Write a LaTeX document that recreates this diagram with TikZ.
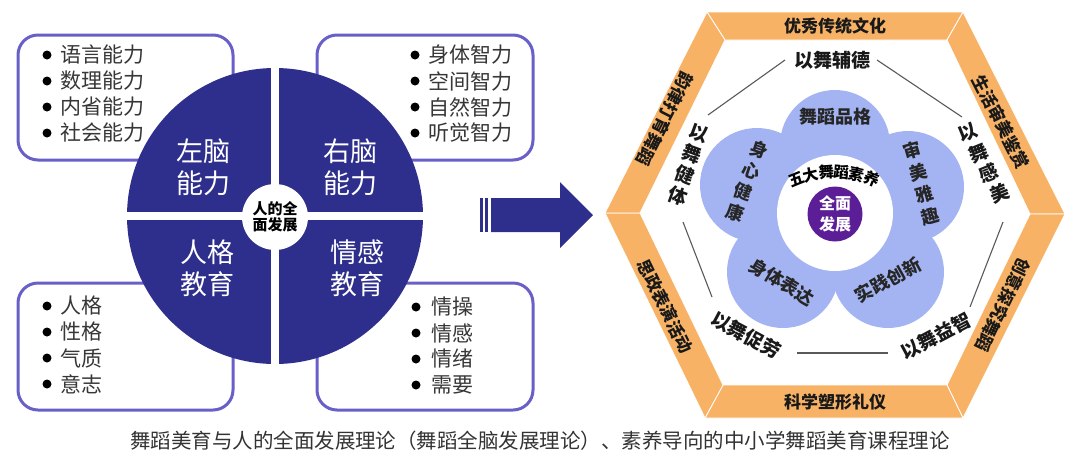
\documentclass[tikz,border=0pt]{standalone}
\usepackage{fontspec}
\setmainfont{Noto Sans CJK SC}
\usetikzlibrary{calc}
\definecolor{navy}{RGB}{46,46,140}
\definecolor{boxline}{RGB}{105,95,200}
\definecolor{band}{RGB}{247,178,102}
\definecolor{petal}{RGB}{164,180,242}
\definecolor{core}{RGB}{92,30,150}
\definecolor{txt}{RGB}{55,55,55}
\newcommand\fs[2]{\fontsize{#1}{#2}\selectfont}
\begin{document}
\begin{tikzpicture}[x=1pt,y=-1pt,
  listbox/.style={draw=boxline, line width=3pt, rounded corners=20pt, fill=white},
  item/.style={anchor=west, inner sep=0pt, text=txt, font=\fs{21}{26}},
  quad/.style={text=white, font=\fs{27}{32}, align=center, inner sep=0pt},
  bandlbl/.style={font=\bfseries\fs{17}{19}, inner sep=0pt, text=black!90},
  ring/.style={font=\bfseries\fs{19}{22}, inner sep=0pt, text=black!90},
  petallbl/.style={font=\bfseries\fs{18}{21}, inner sep=0pt, text=black!85},
  link/.style={draw=black!65, line width=1.1pt},
  seg/.style={fill=band, draw=white, line width=0.8pt}
]
\useasboundingbox (0,0) rectangle (1080,467);

% ---------- left: list boxes ----------
\draw[listbox] (18,35) rectangle (233,160);
\draw[listbox] (317,35) rectangle (533,160);
\draw[listbox] (18,283) rectangle (233,410);
\draw[listbox] (317,283) rectangle (533,410);

\foreach \t [count=\i] in {语言能力,数理能力,内省能力,社会能力}{
  \pgfmathsetmacro\yy{55+(\i-1)*26}
  \fill (47,\yy) circle (4.5);
  \node[item] (tl\i) at (60,\yy) {\t};
}
\foreach \t [count=\i] in {身体智力,空间智力,自然智力,听觉智力}{
  \pgfmathsetmacro\yy{55+(\i-1)*26}
  \fill (415,\yy) circle (4.5);
  \node[item] (tr\i) at (428,\yy) {\t};
}
\foreach \t [count=\i] in {人格,性格,气质,意志}{
  \pgfmathsetmacro\yy{306+(\i-1)*26}
  \fill (47,\yy) circle (4.5);
  \node[item] (bl\i) at (60,\yy) {\t};
}
\foreach \t [count=\i] in {情操,情感,情绪,需要}{
  \pgfmathsetmacro\yy{307+(\i-1)*26}
  \fill (416,\yy) circle (4.5);
  \node[item] (br\i) at (431,\yy) {\t};
}

% ---------- left: quartered circle ----------
\fill[navy] (275,216) circle (148);
\draw[white, line width=8pt] (120,216) -- (430,216);
\draw[white, line width=8pt] (275,60) -- (275,372);
\node[circle, fill=white, minimum size=66pt, inner sep=0pt, align=center,
      font=\bfseries\fs{15}{16}] (hub) at (275,217) {人的全\\面发展};
\node[quad] (q1) at (203,167) {左脑\\能力};
\node[quad] (q2) at (350,167) {右脑\\能力};
\node[quad] (q3) at (207,268) {人格\\教育};
\node[quad] (q4) at (357,268) {情感\\教育};

% ---------- arrow ----------
\fill[navy] (480,198) rectangle (483,232);
\fill[navy] (485,198) rectangle (488,232);
\fill[navy] (491,198) -- (560,198) -- (560,182) -- (593,215) -- (560,248)
            -- (560,232) -- (491,232) -- cycle;

% ---------- hexagon band ----------
\coordinate (O1) at (707,12);  \coordinate (O2) at (963,12);
\coordinate (O3) at (1065,214);\coordinate (O4) at (963,418);
\coordinate (O5) at (705,418); \coordinate (O6) at (605,213);
\coordinate (I1) at (725,40);  \coordinate (I2) at (947,40);
\coordinate (I3) at (1030,214);\coordinate (I4) at (947,385);
\coordinate (I5) at (723,385); \coordinate (I6) at (640,213);
\path[seg] (O1) -- (O2) -- (I2) -- (I1) -- cycle;
\path[seg] (O2) -- (O3) -- (I3) -- (I2) -- cycle;
\path[seg] (O3) -- (O4) -- (I4) -- (I3) -- cycle;
\path[seg] (O4) -- (O5) -- (I5) -- (I4) -- cycle;
\path[seg] (O5) -- (O6) -- (I6) -- (I5) -- cycle;
\path[seg] (O6) -- (O1) -- (I1) -- (I6) -- cycle;

\node[bandlbl] (b1) at (835,26) {优秀传统文化};
\node[bandlbl] (b4) at (835,402) {科学塑形礼仪};
\node[bandlbl, rotate=-117] (b6) at (665,119) {韵律打育舞蹈};
\node[bandlbl, rotate=-64] (b5) at (665,306) {思政表演活动};
\node[bandlbl, rotate=-63] (b2) at (1001,122) {生活审美鉴赏};
\node[bandlbl, rotate=-116] (b3) at (1003,305) {创意探究舞蹈};

% ---------- ring labels and links ----------
\node[ring] (r1) at (832,60) {以舞辅德};
\foreach \c [count=\i from 0] in {以,舞,健,体}
  \node[ring, rotate=-20] (rl\i) at ($(699,133)+\i*(-7,21)$) {\c};
\foreach \c [count=\i from 0] in {以,舞,感,美}
  \node[ring, rotate=22] (rr\i) at ($(968,133)+\i*(10.5,20)$) {\c};
\node[ring, rotate=-28] (r4) at (746,335) {以舞促劳};
\node[ring, rotate=28] (r5) at (936,336) {以舞益智};

\coordinate (k1a) at (708,115); \coordinate (k1b) at (785,60);
\coordinate (k2a) at (877,60);  \coordinate (k2b) at (962,117);
\coordinate (k3a) at (683,222); \coordinate (k3b) at (712,297);
\coordinate (k4a) at (1003,222);\coordinate (k4b) at (970,307);
\coordinate (k5a) at (797,353); \coordinate (k5b) at (888,353);
\draw[link] (k1a) -- (k1b);
\draw[link] (k2a) -- (k2b);
\draw[link] (k3a) -- (k3b);
\draw[link] (k4a) -- (k4b);
\draw[link] (k5a) -- (k5b);

% ---------- flower ----------
\fill[petal] (835,145) circle (55);
\fill[petal] (757,185) circle (57);
\fill[petal] (908,187) circle (56);
\fill[petal] (783,272) circle (56);
\fill[petal] (888,272) circle (56);
\fill[petal] (835,213) circle (75);
\fill[white] (835,213) circle (58);
\node[circle, fill=core, minimum size=55pt, inner sep=0pt, text=white, align=center,
      font=\bfseries\fs{16}{21}] (core) at (835,214) {全面\\发展};

\foreach \c [count=\i] in {五,大,舞,蹈,素,养}{
  \pgfmathsetmacro\ph{(\i-3.5)*8.8}
  \node[font=\bfseries\fs{15.5}{16}, inner sep=0pt, rotate=-\ph] (w\i)
     at ({834+100*sin(\ph)},{272-100*cos(\ph)}) {\c};
}
\node[petallbl] (p1) at (835,117) {舞蹈品格};
\foreach \c [count=\i from 0] in {身,心,健,康}
  \node[petallbl, rotate=-18] (pl\i) at ($(759,150)+\i*(-8,21)$) {\c};
\foreach \c [count=\i from 0] in {审,美,雅,趣}
  \node[petallbl, rotate=16] (pr\i) at ($(912,150)+\i*(6,22)$) {\c};
\node[petallbl, rotate=-31] (p4) at (782,282) {身体表达};
\node[petallbl, rotate=29] (p5) at (888,280) {实践创新};

% ---------- caption ----------
\node[font=\fs{20.5}{22}, text=black!80, inner sep=0pt] (cap) at (540,441)
  {舞蹈美育与人的全面发展理论（舞蹈全脑发展理论）、素养导向的中小学舞蹈美育课程理论};
\end{tikzpicture}
\end{document}
